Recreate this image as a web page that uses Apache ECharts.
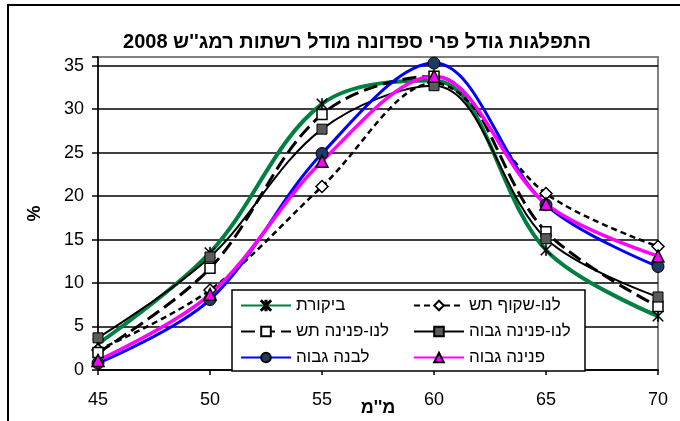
<!DOCTYPE html>
<html>
<head>
<meta charset="UTF-8">
<title></title>
<script src="https://cdn.jsdelivr.net/npm/echarts@6/dist/echarts.min.js"></script>
<style>
  body { margin: 0; background: #fff; }
  #main { width: 680px; height: 421px; }
</style>
</head>
<body>
<div id="main" dir="rtl"></div>
<script>
// sizes in mm
var sizes = [45, 50, 55, 60, 65, 70];
var yTicks = [0, 5, 10, 15, 20, 25, 30, 35];

var names = ['ביקורת', 'לנו-שקוף תש', 'לנו-פנינה תש', 'לנו-פנינה גבוה', 'לבנה גבוה', 'פנינה גבוה'];

var bikoret       = [3.0, 13.5, 30.6, 33.3, 13.8, 6.2];
var shakufTash    = [2.3, 9.2, 21.1, 33.0, 20.3, 14.2];
var peninaTash    = [2.0, 11.7, 29.4, 33.8, 15.9, 7.3];
var peninaGavoha  = [3.7, 13.0, 27.7, 32.7, 15.1, 8.4];
var levanaGavoha  = [0.8, 8.1, 24.9, 35.3, 19.0, 11.9];
var peninaGavoha2 = [1.1, 8.7, 24.0, 33.8, 19.1, 13.1];

function pairs(vals) {
  return sizes.map(function (s, i) { return [s, vals[i]]; });
}

var asterisk = 'path://M-5,-4.3L-4.3,-5L5,4.3L4.3,5Z M4.3,-5L5,-4.3L-4.3,5L-5,4.3Z M-0.6,-5L0.6,-5L0.6,5L-0.6,5Z';
var sm = 0.35;

var myChart = echarts.init(document.getElementById('main'));

var option = {
  animation: false,
  textStyle: { fontFamily: 'Liberation Sans, Arial, sans-serif' },
  graphic: [{
    type: 'rect',
    shape: { x: 8, y: 5, width: 720, height: 500 },
    style: { fill: null, stroke: '#000', lineWidth: 2 },
    silent: true
  }],
  title: {
    text: "התפלגות גודל פרי ספדונה מודל רשתות רמג''ש 2008",
    left: 352,
    top: 27,
    textAlign: 'center',
    textStyle: { fontSize: 20, fontWeight: 'bold', color: '#000' }
  },
  legend: {
    left: 232,
    top: 290,
    width: 350,
    padding: [6, 6, 4, 8],
    itemWidth: 50,
    itemHeight: 12,
    itemGap: 7,
    backgroundColor: '#fff',
    borderColor: '#000',
    borderWidth: 1.5,
    borderRadius: 0,
    textStyle: { fontSize: 17, color: '#000', width: 110, lineHeight: 19 },
    data: names
  },
  grid: {
    left: 98, right: 22, top: 57, bottom: 51,
    outerBoundsMode: 'none',
    show: true, borderColor: '#808080', borderWidth: 2, backgroundColor: '#fff'
  },
  xAxis: {
    type: 'value',
    min: 45, max: 70, interval: 5,
    name: "מ''מ",
    nameLocation: 'middle',
    nameGap: 29,
    nameMoveOverlap: false,
    nameTextStyle: { fontSize: 18, fontWeight: 'bold', color: '#000' },
    axisLine: { lineStyle: { color: '#000', width: 1.5 } },
    axisTick: { show: true, length: 5, lineStyle: { color: '#000', width: 1.5 } },
    axisLabel: { fontSize: 18, color: '#000', margin: 21 },
    splitLine: { show: false }
  },
  yAxis: {
    type: 'value',
    min: 0, max: 36, interval: 5,
    name: '%',
    nameLocation: 'middle',
    nameGap: 54,
    nameMoveOverlap: false,
    nameRotate: 90,
    nameTextStyle: { fontSize: 18, fontWeight: 'bold', color: '#000' },
    axisLine: { show: true, lineStyle: { color: '#000', width: 1.5 } },
    axisTick: { show: true, length: 6, lineStyle: { color: '#000', width: 1.5 } },
    axisLabel: {
      fontSize: 18, color: '#000', margin: 14,
      formatter: function (v) { return yTicks.indexOf(v) >= 0 ? String(v) : ''; }
    },
    splitLine: {
      show: true,
      lineStyle: { color: ['#000', '#000', '#000', '#000', '#000', '#000', '#000', '#000', '#808080'], width: 1.5 }
    }
  },
  series: [
    {
      name: names[0], type: 'line', smooth: sm, data: pairs(bikoret),
      lineStyle: { color: '#008040', width: 4 },
      itemStyle: { color: '#000', borderColor: '#000', borderWidth: 0.5 },
      symbol: asterisk, symbolSize: 11
    },
    {
      name: names[1], type: 'line', smooth: sm, data: pairs(shakufTash),
      lineStyle: { color: '#000', width: 2.5, type: [6, 4] },
      itemStyle: { color: '#fff', borderColor: '#000', borderWidth: 1.5 },
      symbol: 'diamond', symbolSize: 12
    },
    {
      name: names[2], type: 'line', smooth: sm, data: pairs(peninaTash),
      lineStyle: { color: '#000', width: 3, type: [14, 6] },
      itemStyle: { color: '#fff', borderColor: '#000', borderWidth: 1.5 },
      symbol: 'rect', symbolSize: 10
    },
    {
      name: names[3], type: 'line', smooth: sm, data: pairs(peninaGavoha),
      lineStyle: { color: '#000', width: 2 },
      itemStyle: { color: '#5a5a5a', borderColor: '#000', borderWidth: 1 },
      symbol: 'rect', symbolSize: 10
    },
    {
      name: names[4], type: 'line', smooth: sm, data: pairs(levanaGavoha),
      lineStyle: { color: '#0000ff', width: 3 },
      itemStyle: { color: '#1f3a60', borderColor: '#000', borderWidth: 1 },
      symbol: 'circle', symbolSize: 12
    },
    {
      name: names[5], type: 'line', smooth: sm, data: pairs(peninaGavoha2),
      lineStyle: { color: '#ff00ff', width: 3.5 },
      itemStyle: { color: '#ff00ff', borderColor: '#000', borderWidth: 1.5 },
      symbol: 'triangle', symbolSize: 12
    }
  ]
};
myChart.setOption(option);
</script>
</body>
</html>
